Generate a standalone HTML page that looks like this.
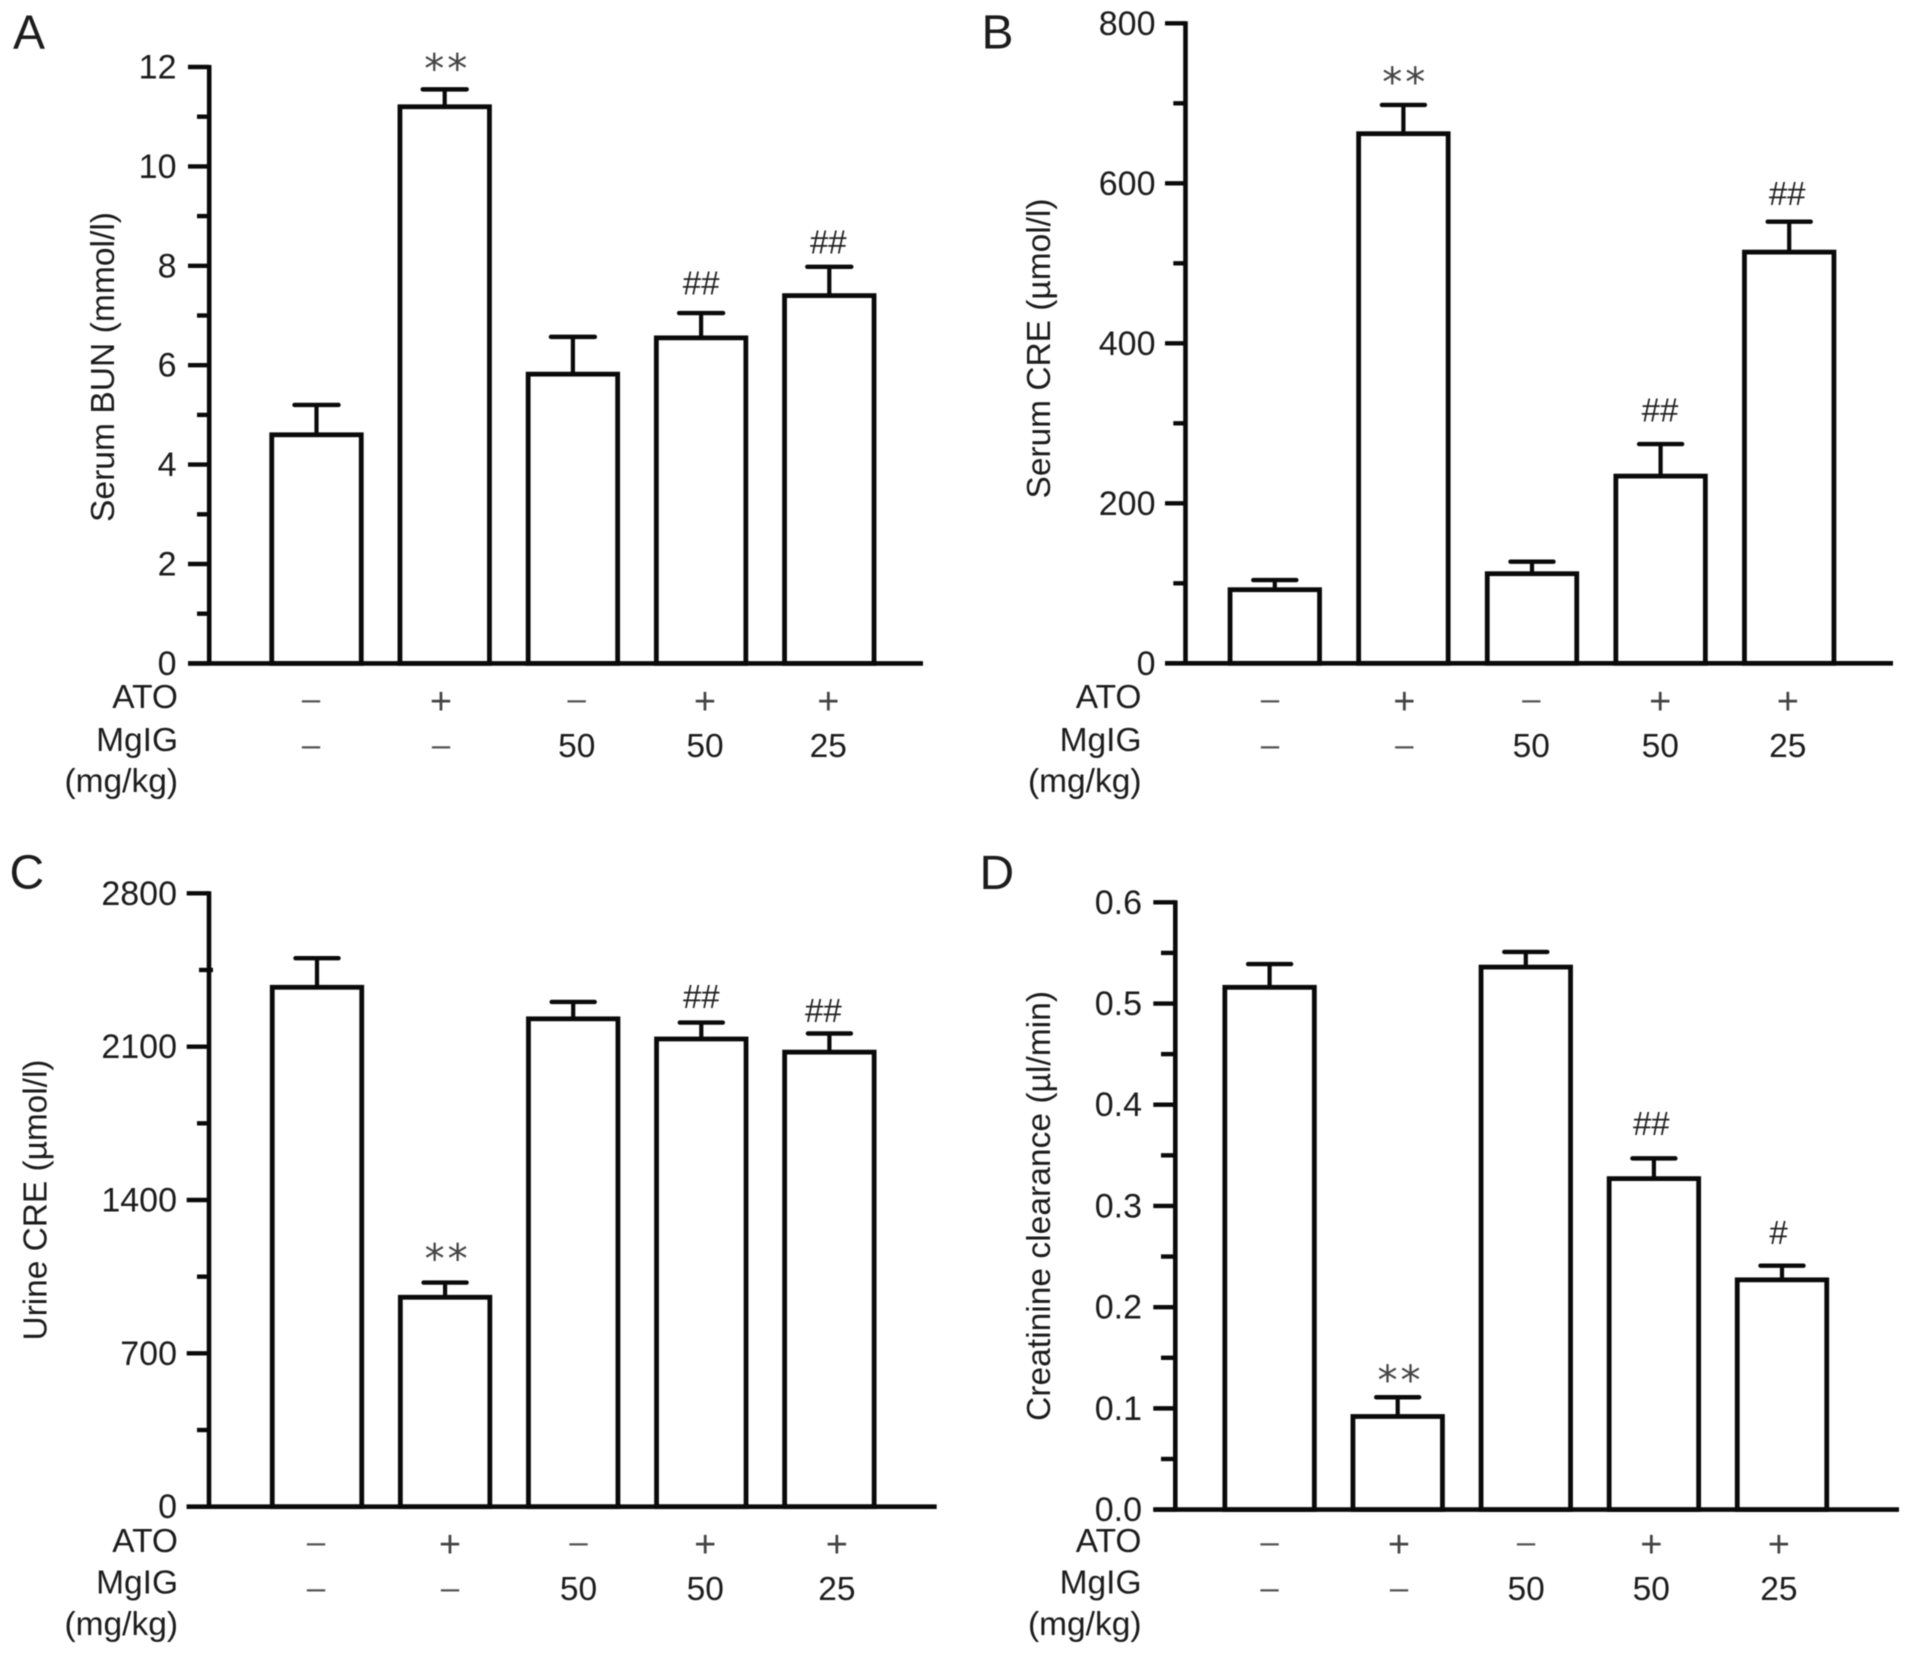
<!DOCTYPE html>
<html lang="en">
<head>
<meta charset="utf-8">
<title>Renal function bar charts</title>
<style>
html,body{margin:0;padding:0;background:#fff;}
svg{display:block;filter:blur(.6px);}
text{font-family:"Liberation Sans",Arial,sans-serif;fill:#1c1c1c;}
</style>
</head>
<body>
<svg id="figure" xmlns="http://www.w3.org/2000/svg" width="1913" height="1656" viewBox="0 0 1913 1656">
<rect x="0" y="0" width="1913" height="1656" fill="#fff"/>

<text x="13" y="48.5" font-size="48">A</text>
<text x="981.5" y="48.5" font-size="48">B</text>
<text x="9.5" y="888.5" font-size="48">C</text>
<text x="979.5" y="889" font-size="48">D</text>

<text transform="translate(114,367) rotate(-90)" text-anchor="middle" font-size="33.5" textLength="310" lengthAdjust="spacingAndGlyphs">Serum BUN (mmol/l)</text>
<text transform="translate(1050,348.5) rotate(-90)" text-anchor="middle" font-size="33.5" textLength="300" lengthAdjust="spacingAndGlyphs">Serum CRE (µmol/l)</text>
<text transform="translate(46.5,1200) rotate(-90)" text-anchor="middle" font-size="33.5" textLength="281" lengthAdjust="spacingAndGlyphs">Urine CRE (µmol/l)</text>
<text transform="translate(1050,1206) rotate(-90)" text-anchor="middle" font-size="33.5" textLength="430" lengthAdjust="spacingAndGlyphs">Creatinine clearance (µl/min)</text>

<g text-anchor="end" font-size="33.5">
<text x="178" y="708">ATO</text>
<text x="178" y="751">MgIG</text>
<text x="178" y="792">(mg/kg)</text>
</g>
<g text-anchor="end" font-size="33.5">
<text x="1141.5" y="708">ATO</text>
<text x="1141.5" y="751">MgIG</text>
<text x="1141.5" y="792">(mg/kg)</text>
</g>
<g text-anchor="end" font-size="33.5">
<text x="178" y="1552">ATO</text>
<text x="178" y="1593.5">MgIG</text>
<text x="178" y="1635">(mg/kg)</text>
</g>
<g text-anchor="end" font-size="33.5">
<text x="1141.5" y="1552">ATO</text>
<text x="1141.5" y="1593.5">MgIG</text>
<text x="1141.5" y="1635">(mg/kg)</text>
</g>
</svg>

<script>
// ---- Shared categories ----
const atoLabels = ['–', '+', '–', '+', '+'];
const mgigLabels = ['–', '–', '50', '50', '25'];

// ---- Panel A: Serum BUN (mmol/l) ----
const bunValues = [4.6, 11.2, 5.82, 6.55, 7.4];
const bunErrorTops = [5.2, 11.55, 6.57, 7.05, 7.98];
const bunMarks = ['', '**', '', '##', '##'];
const bunTicks = [0, 2, 4, 6, 8, 10, 12];
const bunMinorTicks = [1, 3, 5, 7, 9, 11];

// ---- Panel B: Serum CRE (umol/l) ----
const sCreValues = [92, 662, 112, 234, 514];
const sCreErrorTops = [104, 698, 127, 274, 552];
const sCreMarks = ['', '**', '', '##', '##'];
const sCreTicks = [0, 200, 400, 600, 800];
const sCreMinorTicks = [100, 300, 500, 700];

// ---- Panel C: Urine CRE (umol/l) ----
const uCreValues = [2371, 956, 2227, 2135, 2075];
const uCreErrorTops = [2504, 1023, 2304, 2210, 2160];
const uCreMarks = ['', '**', '', '##', '##'];
const uCreTicks = [0, 700, 1400, 2100, 2800];
const uCreMinorTicks = [350, 1050, 1750, 2450];

// ---- Panel D: Creatinine clearance (ul/min) ----
const clrValues = [0.516, 0.092, 0.536, 0.327, 0.227];
const clrErrorTops = [0.539, 0.111, 0.551, 0.347, 0.241];
const clrMarks = ['', '**', '', '##', '#'];
const clrTicks = ['0.0', '0.1', '0.2', '0.3', '0.4', '0.5', '0.6'];
const clrMinorTicks = [0.05, 0.15, 0.25, 0.35, 0.45, 0.55];

// ---- Panel wiring and layout (geometry lives here, not in the data arrays) ----
const panels = [
  {id:'a', values:bunValues, errs:bunErrorTops, marks:bunMarks, ticks:bunTicks, minor:bunMinorTicks, max:12,
   axisX:209.2, y0:663.4, yTop:67, tickLeft:188, minorLeft:197, minorOver:0, labelRight:176.5, xEnd:923,
   first:316.5, step:128.2, barW:89.5, capW:44,
   rowY:[701,747], rowNudge:[-5.5,-3.7,3.8,3.9,-1], markNudge:[0,1,0,0,-1], markLift:[0,28,0,30,25]},
  {id:'b', values:sCreValues, errs:sCreErrorTops, marks:sCreMarks, ticks:sCreTicks, minor:sCreMinorTicks, max:800,
   axisX:1185.5, y0:663.3, yTop:23.3, tickLeft:1165, minorLeft:1173.3, minorOver:0, labelRight:1155.5, xEnd:1893,
   first:1274.8, step:128.6, barW:89.5, capW:43,
   rowY:[701,747], rowNudge:[-4.8,0.9,-0.7,-0.4,-1.4], markNudge:[0,0.3,0,-0.6,-2], markLift:[0,30,0,34,28]},
  {id:'c', values:uCreValues, errs:uCreErrorTops, marks:uCreMarks, ticks:uCreTicks, minor:uCreMinorTicks, max:2800,
   axisX:209, y0:1506.7, yTop:893.3, tickLeft:186.7, minorLeft:197, minorOver:4, labelRight:177, xEnd:936.7,
   first:317, step:128.1, barW:89.5, capW:43,
   rowY:[1544,1590], rowNudge:[-1,4.9,5.3,3.9,7.5], markNudge:[0,1,0,0,-6], markLift:[0,31,0,26,23]},
  {id:'d', values:clrValues, errs:clrErrorTops, marks:clrMarks, ticks:clrTicks, minor:clrMinorTicks, max:0.6,
   axisX:1175.3, y0:1509.6, yTop:902.3, tickLeft:1153.3, minorLeft:1161, minorOver:0, labelRight:1142, xEnd:1899,
   first:1269.6, step:128.1, barW:89.5, capW:43,
   rowY:[1544,1590], rowNudge:[0,1.3,0.3,-2.6,-3.1], markNudge:[0,1.3,0,-2.6,-3.5], markLift:[0,24,0,35,33]}
];

const SVGNS = 'http://www.w3.org/2000/svg';
const root = document.getElementById('figure');

function line(parent, x1, y1, x2, y2, sw) {
  const el = document.createElementNS(SVGNS, 'line');
  el.setAttribute('x1', x1);
  el.setAttribute('y1', y1);
  el.setAttribute('x2', x2);
  el.setAttribute('y2', y2);
  el.setAttribute('stroke', '#0a0a0a');
  el.setAttribute('stroke-width', sw);
  parent.appendChild(el);
  return el;
}
function label(parent, x, y, str, size, anchor, color, family) {
  const el = document.createElementNS(SVGNS, 'text');
  el.setAttribute('x', x);
  el.setAttribute('y', y);
  el.setAttribute('font-size', size);
  el.setAttribute('text-anchor', anchor);
  if (color) el.style.fill = color;
  if (family) el.style.fontFamily = family;
  el.textContent = str;
  parent.appendChild(el);
  return el;
}
// Centre a row label (minus, plus or dose) on a vertical position.
function rowText(parent, x, cy, str) {
  if (str === '+') return label(parent, x, cy + 13, str, 38, 'middle', '#444');
  if (str === '–') return label(parent, x, cy + 9, str, 33, 'middle', '#555');
  return label(parent, x, cy + 10, str, 33.5, 'middle', '#1c1c1c');
}

panels.forEach(function (p) {
  const yScale = function (v) { return p.y0 - (Number(v) / p.max) * (p.y0 - p.yTop); };
  const xScale = function (i) { return p.first + p.step * i; };

  const g = document.createElementNS(SVGNS, 'g');
  
  
  root.appendChild(g);

  // y axis ticks and labels
  p.ticks.forEach(function (t) {
    const tick = line(g, p.tickLeft, yScale(t), p.axisX, yScale(t), 4.4);
    
    
    const tl = label(g, p.labelRight, yScale(t) + 11.5, String(t), 34, 'end', '#1c1c1c');
    
    
  });
  p.minor.forEach(function (t, i) {
    const over = i === p.minor.length - 1 ? p.minorOver : 0;
    const tick = line(g, p.minorLeft + (over ? 2 : 0), yScale(t), p.axisX + over, yScale(t), 4.4);
    
    
  });

  // bars, error bars, significance marks, row labels
  p.values.forEach(function (v, i) {
    const cx = xScale(i);
    const top = yScale(v);
    const errTop = yScale(p.errs[i]);

    const stem = line(g, cx, top, cx, errTop, 4.2);
    
    
    const cap = line(g, cx - p.capW / 2, errTop, cx + p.capW / 2, errTop, 4.4);
    cap.setAttribute('stroke-linecap', 'round');
    
    

    const bar = document.createElementNS(SVGNS, 'rect');
    bar.setAttribute('x', cx - p.barW / 2);
    bar.setAttribute('y', top);
    bar.setAttribute('width', p.barW);
    bar.setAttribute('height', p.y0 - top);
    bar.setAttribute('fill', '#fff');
    bar.setAttribute('stroke', '#0a0a0a');
    bar.setAttribute('stroke-width', 4.8);
    
    
    g.appendChild(bar);

    const mark = p.marks[i];
    if (mark) {
      const isStar = mark.charAt(0) === '*';
      const baseline = errTop - p.markLift[i] + (isStar ? 21 : 11.5);
      const m = label(g, cx + p.markNudge[i] + (isStar ? 1.5 : 0), baseline, mark, isStar ? 40 : 33, 'middle', isStar ? '#444' : '#222',
        isStar ? '"DejaVu Sans",sans-serif' : null);
      if (isStar) m.setAttribute('letter-spacing', '3');
      
      
    }

    const rx = cx + p.rowNudge[i];
    const a = rowText(g, rx, p.rowY[0], atoLabels[i]);
    
    
    const d = rowText(g, rx, p.rowY[1], mgigLabels[i]);
    
    
  });

  // axis lines drawn last so they sit over bar feet
  const yAxis = line(g, p.axisX, p.yTop - 2, p.axisX, p.y0 + 2, 4.6);
  
  
  const xAxis = line(g, p.tickLeft, p.y0, p.xEnd, p.y0, 4.6);
  
  
});
</script>
</body>
</html>
